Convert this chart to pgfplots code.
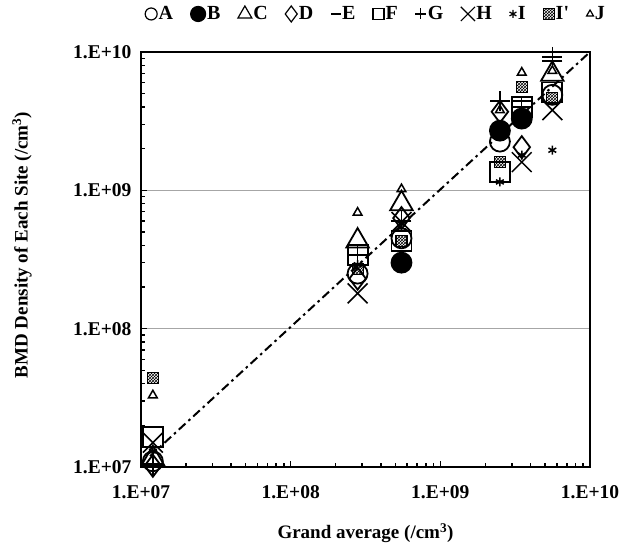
\documentclass[border=0pt]{standalone}
\usepackage{fontspec}
\setmainfont{Liberation Serif}
\usepackage{pgfplots}
\usetikzlibrary{patterns}
\pgfplotsset{compat=1.18}
\pgfplotsset{lgs/.style={legend image code/.code={\draw[##1,mark size=#1,line width=1.2pt] plot coordinates {(0pt,0pt)};}}}
\begin{document}
\begin{tikzpicture}
\path[use as bounding box] (-141pt,-82pt) rectangle (488pt,467pt);
\begin{axis}[
  at={(0pt,0pt)}, anchor=south west,
  scale only axis, width=449pt, height=415pt,
  xmode=log, ymode=log,
  xmin=1e7, xmax=1e10, ymin=1e7, ymax=1e10,
  xtick={1e7,1e8,1e9,1e10}, xticklabels={1.E+07,1.E+08,1.E+09,1.E+10},
  ytick={1e7,1e8,1e9,1e10}, yticklabels={1.E+07,1.E+08,1.E+09,1.E+10},
  xtick pos=lower, ytick pos=left,
  tick align=inside,
  major tick length=6pt, minor tick length=4pt,
  every tick/.style={black, line width=1.5pt},
  ymajorgrids, major grid style={gray!70, line width=1pt},
  axis line style={line width=2.5pt},
  clip=false,
  ticklabel style={font=\fontsize{19.5}{22}\selectfont\bfseries},
  xticklabel style={yshift=-15pt},
  yticklabel style={xshift=-6pt},
  xlabel={Grand average (/cm\textsuperscript{3})},
  ylabel={BMD Density of Each Site (/cm\textsuperscript{3})},
  every axis x label/.style={at={(axis description cs:0.5,-0.159)}, anchor=center, font=\fontsize{19}{22}\selectfont\bfseries},
  every axis y label/.style={at={(axis description cs:-0.265,0.535)}, rotate=90, anchor=center, font=\fontsize{19}{22}\selectfont\bfseries},
  legend style={at={(axis description cs:0.523,1.0916)}, anchor=center, draw=none, fill=none,
    inner sep=0pt, font=\fontsize{20}{22}\selectfont\bfseries,
    nodes={inner sep=1.5pt},
    /tikz/every even column/.append style={column sep=16pt}},
  legend columns=-1,
]
\addplot[forget plot, black, line width=2pt, dash pattern=on 9pt off 4pt on 2.5pt off 4pt]
  coordinates {(1.15e7,1.2e7) (1e10,1e10)};

\addplot[only marks, mark=o, mark size=10pt, line width=1.8pt, lgs=6pt]
  coordinates {(1.2e7,1.1e7) (2.8e8,2.5e8) (5.5e8,4.5e8) (2.5e9,2.25e9) (5.6e9,4.9e9)};
\addlegendentry{A}
\addplot[only marks, mark=*, mark size=10pt, line width=1.8pt, mark options={fill=black}, lgs=7.5pt]
  coordinates {(5.5e8,3.0e8) (2.5e9,2.7e9) (3.5e9,3.3e9)};
\addlegendentry{B}
\addplot[only marks, mark=triangle, mark size=13pt, line width=1.8pt, lgs=8pt]
  coordinates {(1.2e7,1.15e7) (2.8e8,4.3e8) (5.5e8,8.0e8) (5.6e9,6.9e9)};
\addlegendentry{C}
\addplot[only marks, mark=diamond, mark size=11pt, line width=1.8pt, lgs=8pt]
  coordinates {(1.2e7,1.02e7) (2.8e8,2.3e8) (5.5e8,6.3e8) (2.5e9,3.7e9) (3.5e9,2.05e9)};
\addlegendentry{D}
\addplot[only marks, mark=-, mark size=10pt, line width=2pt, lgs=5pt]
  coordinates {(1.2e7,1.05e7) (2.8e8,3.4e8) (5.5e8,6.0e8) (2.5e9,4.4e9) (3.5e9,4.4e9) (5.6e9,8.6e9)};
\addlegendentry{E}
\addplot[only marks, mark=square, mark size=10pt, line width=1.8pt, lgs=5.5pt]
  coordinates {(1.2e7,1.65e7) (2.8e8,3.4e8) (5.5e8,4.3e8) (2.5e9,1.36e9) (3.5e9,4.0e9) (5.6e9,5.1e9)};
\addlegendentry{F}
\addplot[only marks, mark=+, mark size=10pt, line width=1.3pt, lgs=5.5pt]
  coordinates {(1.2e7,1.03e7) (2.8e8,3.4e8) (5.5e8,6.0e8) (2.5e9,4.4e9) (3.5e9,4.0e9) (5.6e9,9.2e9)};
\addlegendentry{G}
\addplot[only marks, mark=x, mark size=14pt, line width=1.5pt, lgs=10pt]
  coordinates {(1.2e7,1.5e7) (2.8e8,1.8e8) (5.5e8,5.9e8) (3.5e9,1.6e9) (5.6e9,3.8e9)};
\addlegendentry{H}
\addplot[only marks, mark=asterisk, mark size=4.5pt, line width=1.5pt, lgs=4pt]
  coordinates {(1.2e7,1.3e7) (2.8e8,2.9e8) (5.5e8,5.7e8) (2.5e9,1.15e9) (3.5e9,1.8e9) (5.6e9,1.95e9)};
\addlegendentry{I}
\addplot[only marks, mark=square*, mark size=5.5pt, line width=1.2pt, mark options={fill=black!55, pattern=crosshatch, pattern color=black}, lgs=5.5pt]
  coordinates {(1.2e7,4.4e7) (2.8e8,2.7e8) (5.5e8,4.3e8) (2.5e9,1.6e9) (3.5e9,5.6e9) (5.6e9,4.65e9)};
\addlegendentry{I\textquotesingle}
\addplot[only marks, mark=triangle, mark size=5pt, line width=1.5pt, lgs=4pt]
  coordinates {(1.2e7,3.3e7) (2.8e8,6.9e8) (5.5e8,1.02e9) (2.5e9,3.8e9) (3.5e9,7.1e9) (5.6e9,7.3e9)};
\addlegendentry{J}
\end{axis}
\end{tikzpicture}
\end{document}
